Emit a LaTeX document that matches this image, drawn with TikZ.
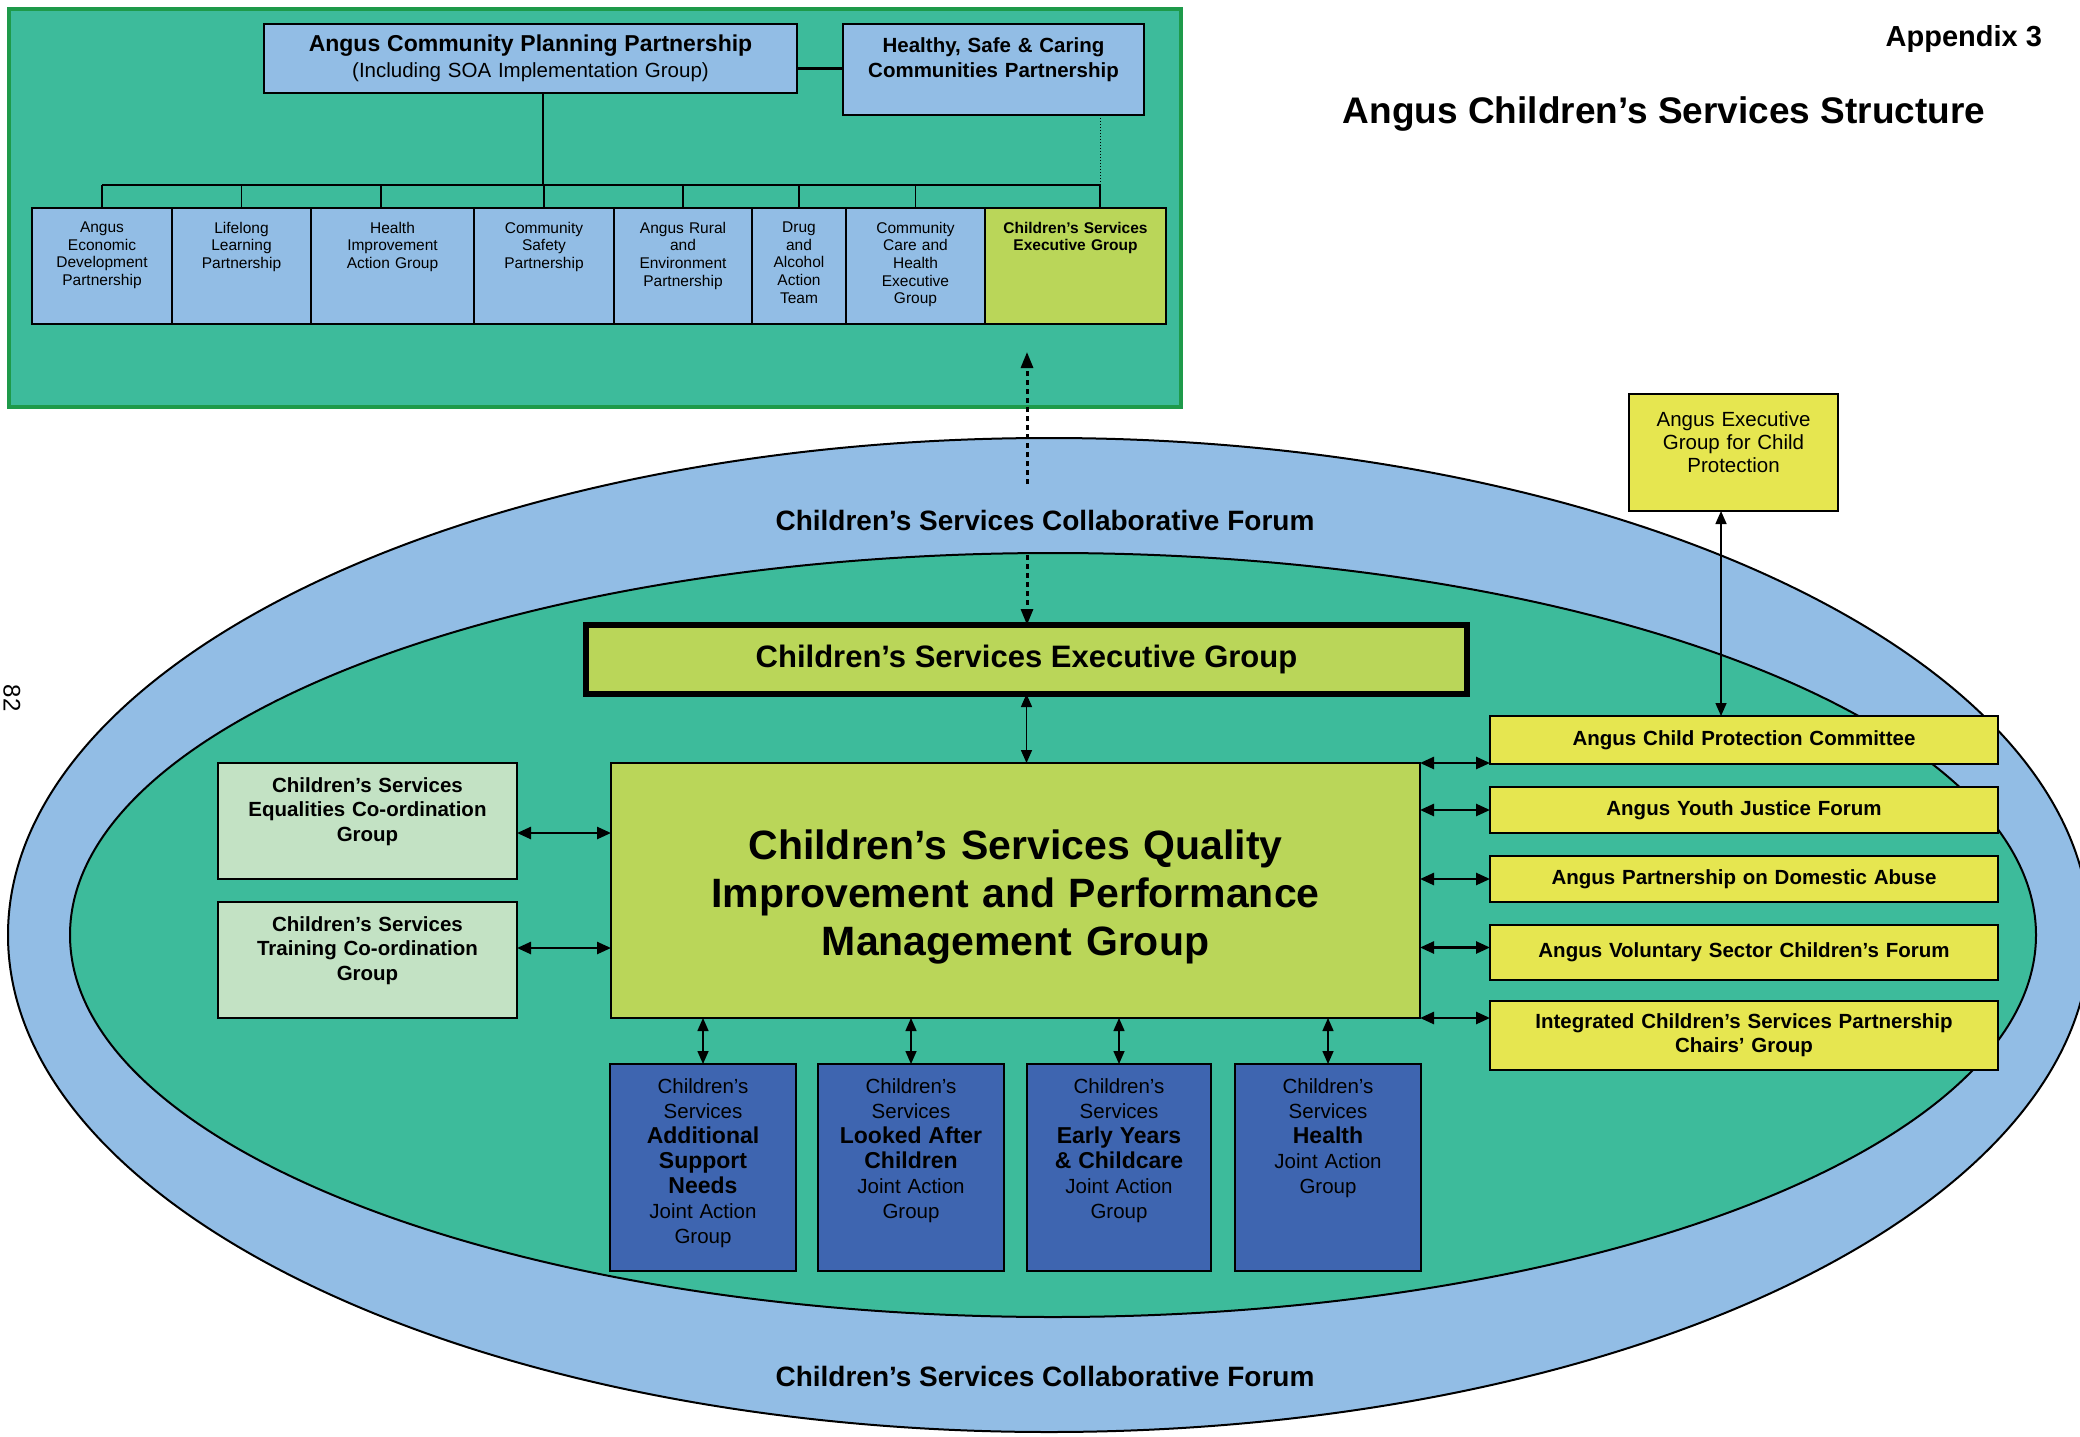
\documentclass[tikz,border=0pt]{standalone}
\usepackage{fontspec}
\setmainfont{Liberation Sans}
\usetikzlibrary{arrows.meta,positioning}
\definecolor{panelgreen}{HTML}{3DBB9B}
\definecolor{panelborder}{HTML}{1E9A4A}
\definecolor{forumblue}{HTML}{92BDE5}
\definecolor{execlime}{HTML}{BAD659}
\definecolor{partyellow}{HTML}{E6E650}
\definecolor{coordgreen}{HTML}{C3E2C4}
\definecolor{jagblue}{HTML}{3E65B0}
\tikzset{
    every node/.style={inner sep=0pt, outer sep=0pt}
}
\tikzset{
    cppframe/.style={draw=panelborder, fill=panelgreen, line width=3.5pt, anchor=north west},
    cppbox/.style={draw, fill=forumblue, line width=2.5pt, anchor=north west},
    rowbox/.style={draw, fill=forumblue, line width=2pt, anchor=north west, minimum height=116pt},
    rowtext/.style={align=center, text width=180pt, font=\fontsize{15.5}{17.6}\selectfont},
    csegbox/.style={draw, fill=execlime, line width=5.5pt, anchor=north west,
        font=\bfseries\fontsize{31}{36}\selectfont},
    qibox/.style={draw, fill=execlime, line width=2.5pt, anchor=north west},
    eqbox/.style={draw, fill=coordgreen, line width=2pt, anchor=north west,
        minimum width=299pt, minimum height=116pt},
    eqtext/.style={align=center, text width=290pt, font=\bfseries\fontsize{20.5}{24.5}\selectfont},
    ybox/.style={draw, fill=partyellow, line width=2.5pt, anchor=north west, align=center,
        text width=500pt, minimum width=508pt, font=\bfseries\fontsize{20.5}{24}\selectfont},
    jagbox/.style={draw, fill=jagblue, line width=2pt, anchor=north west, minimum height=207pt},
    jagtext/.style={align=center, text width=180pt, font=\fontsize{20.5}{25}\selectfont},
    forumlabel/.style={anchor=base, font=\bfseries\fontsize{28}{32}\selectfont},
    treeline/.style={line width=1.5pt},
    biarrow/.style={line width=2.5pt, {Triangle[length=14pt,width=12pt]}-{Triangle[length=14pt,width=12pt]}},
    thinarrow/.style={line width=1.5pt, {Triangle[length=13pt,width=11pt]}-{Triangle[length=13pt,width=11pt]}},
    linkarrow/.style={line width=3pt, dash pattern=on 5pt off 4pt, -{Triangle[length=16pt,width=12pt]}}
}
\newcommand{\jagbold}[1]{\textbf{\fontsize{23}{25}\selectfont #1}}

\begin{document}
\begin{tikzpicture}[x=1pt, y=-1pt]
  \useasboundingbox (0,0) rectangle (2080,1437);

  \node (cppframe) [cppframe, minimum width=1172pt, minimum height=398pt] at (9,9) {};
  \node (acpp) [cppbox, minimum width=533pt, minimum height=69pt, text width=520pt, align=center,
      font=\fontsize{20.5}{26}\selectfont] at (264,24)
      {{\bfseries\fontsize{23}{26}\selectfont Angus Community Planning Partnership}\\(Including SOA Implementation Group)};
  \node (hscp) [cppbox, minimum width=301pt, minimum height=91pt] at (843,24) {};
  \node (hscp-t) [align=center, text width=290pt, font=\bfseries\fontsize{20.5}{25}\selectfont,
      below=13.5pt of hscp.north] {Healthy, Safe \& Caring\\Communities Partnership};

  \node (aedp) [rowbox, minimum width=140pt] at (32,208) {};
  \node (llp) [rowbox, minimum width=139pt] at (172,208) {};
  \node (hiag) [rowbox, minimum width=163pt] at (311,208) {};
  \node (csp) [rowbox, minimum width=140pt] at (474,208) {};
  \node (arep) [rowbox, minimum width=138pt] at (614,208) {};
  \node (daat) [rowbox, minimum width=94pt] at (752,208) {};
  \node (cche) [rowbox, minimum width=139pt] at (846,208) {};
  \node (rowcseg) [rowbox, fill=execlime, minimum width=181pt] at (985,208) {};
  \node (aedp-t) [rowtext, below=14pt of aedp.north] {Angus\\Economic\\Development\\Partnership};
  \node (llp-t) [rowtext, below=14pt of llp.north] {Lifelong\\Learning\\Partnership};
  \node (hiag-t) [rowtext, below=14pt of hiag.north] {Health\\Improvement\\Action Group};
  \node (csp-t) [rowtext, below=14pt of csp.north] {Community\\Safety\\Partnership};
  \node (arep-t) [rowtext, below=14pt of arep.north] {Angus Rural\\and\\Environment\\Partnership};
  \node (daat-t) [rowtext, below=14pt of daat.north] {Drug\\and\\Alcohol\\Action\\Team};
  \node (cche-t) [rowtext, below=14pt of cche.north] {Community\\Care and\\Health\\Executive\\Group};
  \node (rowcseg-t) [rowtext, font=\bfseries\fontsize{15.5}{17.6}\selectfont, below=14pt of rowcseg.north]
      {Children’s Services\\Executive Group};

  \coordinate (busL) at (102,185);
  \coordinate (busR) at (1100,185);
  \draw [line width=3.5pt] ([yshift=-10pt]acpp.east) -- ([yshift=-10pt]acpp.east -| hscp.west);
  \draw [treeline] ([xshift=12.5pt]acpp.south) -- ([xshift=12.5pt]acpp.south |- busL);
  \draw [line width=2pt] (busL) -- (busR);
  \draw [dotted, line width=1pt] (hscp.south -| busR) -- (busR);
  \draw [treeline] (aedp.north) -- (aedp.north |- busL); \draw [treeline] (llp.north) -- (llp.north |- busL);
  \draw [treeline] ([xshift=-11.5pt]hiag.north) -- ([xshift=-11.5pt]hiag.north |- busL);
  \draw [treeline] (csp.north) -- (csp.north |- busL); \draw [treeline] (arep.north) -- (arep.north |- busL);
  \draw [treeline] (daat.north) -- (daat.north |- busL); \draw [treeline] (cche.north) -- (cche.north |- busL);
  \draw [treeline] ([xshift=24.5pt]rowcseg.north) -- ([xshift=24.5pt]rowcseg.north |- busL);

  \node (appx) [anchor=base east, font=\bfseries\fontsize{29}{32}\selectfont] at (2042,47) {Appendix 3};
  \node (title) [anchor=base, font=\bfseries\fontsize{37}{42}\selectfont] at (1664,123)
      {Angus Children’s Services Structure};
  \node (pagenum) [rotate=-90, font=\fontsize{24}{24}\selectfont] at (12,698) {82};

  \draw [fill=forumblue, line width=2pt] (1049,935) ellipse [x radius=1041, y radius=497];
  \draw [fill=panelgreen, line width=2pt] (1053,935) ellipse [x radius=983, y radius=382];
  \node (forumtop) [forumlabel] at (1045,530) {Children’s Services Collaborative Forum};
  \node (forumbot) [forumlabel] at (1045,1386) {Children’s Services Collaborative Forum};

  \node (cseg) [csegbox, minimum width=881pt, minimum height=69pt] at (586,625)
      {Children’s Services Executive Group};
  \node (qi) [qibox, minimum width=809pt, minimum height=255pt] at (611,763) {};
  \node (qi-t) [align=center, text width=780pt, font=\bfseries\fontsize{41}{48}\selectfont]
      at ([yshift=-6pt]qi.center) {Children’s Services Quality\\Improvement and Performance\\Management Group};

  \node (eq) [eqbox] at (218,763) {};
  \node (tr) [eqbox] at (218,902) {};
  \node (eq-t) [eqtext, below=14.5pt of eq.north] {Children’s Services\\Equalities Co-ordination\\Group};
  \node (tr-t) [eqtext, below=14.5pt of tr.north] {Children’s Services\\Training Co-ordination\\Group};

  \node (aegcp) [draw, fill=partyellow, line width=2.5pt, anchor=north west, minimum width=209pt,
      minimum height=117pt] at (1629,394) {};
  \node (aegcp-t) [align=center, text width=200pt, font=\fontsize{20.5}{23}\selectfont,
      below=17.5pt of aegcp.north] {Angus Executive\\Group for Child\\Protection};

  \node (acpc) [ybox, minimum height=48pt] at (1490,716) {Angus Child Protection Committee};
  \node (ayjf) [ybox, minimum height=46pt] at (1490,787) {Angus Youth Justice Forum};
  \node (apda) [ybox, minimum height=46pt] at (1490,856) {Angus Partnership on Domestic Abuse};
  \node (avsf) [ybox, minimum height=55pt] at (1490,925) {Angus Voluntary Sector Children’s Forum};
  \node (icsp) [ybox, minimum height=69pt] at (1490,1001)
      {Integrated Children’s Services Partnership\\Chairs’ Group};

  \node (jag1) [jagbox, minimum width=186pt] at (610,1064) {};
  \node (jag2) [jagbox, minimum width=186pt] at (818,1064) {};
  \node (jag3) [jagbox, minimum width=184pt] at (1027,1064) {};
  \node (jag4) [jagbox, minimum width=186pt] at (1235,1064) {};
  \node (jag1-t) [jagtext, below=15pt of jag1.north]
      {Children’s\\Services\\\jagbold{Additional}\\\jagbold{Support}\\\jagbold{Needs}\\Joint Action\\Group};
  \node (jag2-t) [jagtext, below=15pt of jag2.north]
      {Children’s\\Services\\\jagbold{Looked After}\\\jagbold{Children}\\Joint Action\\Group};
  \node (jag3-t) [jagtext, below=15pt of jag3.north]
      {Children’s\\Services\\\jagbold{Early Years}\\\jagbold{\& Childcare}\\Joint Action\\Group};
  \node (jag4-t) [jagtext, below=15pt of jag4.north]
      {Children’s\\Services\\\jagbold{Health}\\Joint Action\\Group};

  \coordinate (dtop) at (1027,352);
  \coordinate (dgap1) at (1027,484);
  \coordinate (dgap2) at (1027,555);
  \draw [linkarrow] (dgap1) -- (dtop); \draw [linkarrow] (dgap2) -- (cseg.north -| dgap2);

  \draw [thinarrow] (cseg.south) -- (cseg.south |- qi.north);
  \draw [biarrow] ([yshift=-12pt]eq.east) -- ([yshift=-12pt]eq.east -| qi.west);
  \draw [biarrow] ([yshift=12pt]tr.east) -- ([yshift=12pt]tr.east -| qi.west);
  \draw [biarrow] (qi.north east) -- (qi.north east -| acpc.west);
  \draw [biarrow] (ayjf.west -| qi.east) -- (ayjf.west); \draw [biarrow] (apda.west -| qi.east) -- (apda.west);
  \draw [biarrow] ([yshift=5pt]avsf.west -| qi.east) -- ([yshift=5pt]avsf.west);
  \draw [biarrow] (qi.south east) -- (qi.south east -| icsp.west);
  \draw [thinarrow] ([xshift=-12.5pt]aegcp.south) -- ([xshift=-12.5pt]aegcp.south |- acpc.north);
  \draw [thinarrow] (qi.south -| jag1.north) -- (jag1.north); \draw [thinarrow] (qi.south -| jag2.north) -- (jag2.north);
  \draw [thinarrow] (qi.south -| jag3.north) -- (jag3.north); \draw [thinarrow] (qi.south -| jag4.north) -- (jag4.north);
\end{tikzpicture}
\end{document}
